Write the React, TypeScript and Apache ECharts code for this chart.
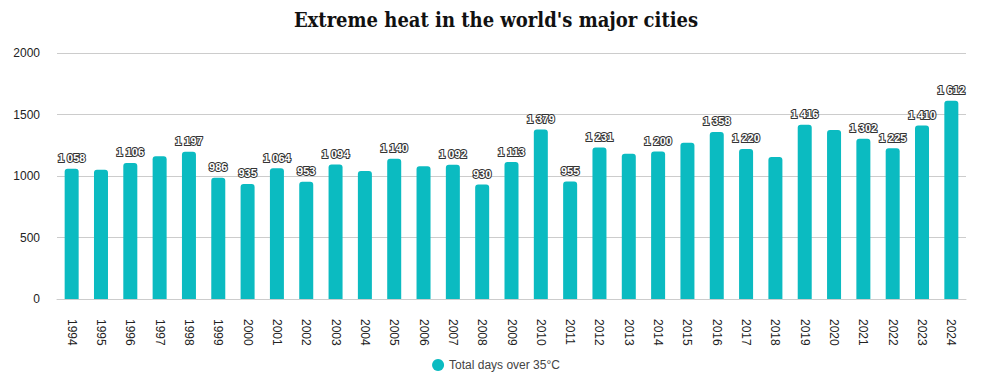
import React, { useEffect, useRef } from "react";
import * as echarts from "echarts";

const years = [
  "1994","1995","1996","1997","1998","1999","2000","2001","2002","2003","2004",
  "2005","2006","2007","2008","2009","2010","2011","2012","2013","2014","2015",
  "2016","2017","2018","2019","2020","2021","2022","2023","2024",
];
const totalDays = [
  1058, 1050, 1106, 1160, 1197, 986, 935, 1064, 953, 1094, 1040,
  1140, 1080, 1092, 930, 1113, 1379, 955, 1231, 1180, 1200, 1270,
  1358, 1220, 1155, 1416, 1375, 1302, 1225, 1410, 1612,
];
const hiddenLabelYears = ["1995","1997","2004","2006","2013","2015","2018","2020"];
const yTicks = [0, 500, 1000, 1500, 2000];
const seriesName = "Total days over 35°C";
const titleText = "Extreme heat in the world's major cities";

const SANS = "'Liberation Sans', Arial, sans-serif";

const fmt = (v: number) => {
  const s = String(Math.round(v));
  return s.replace(/\B(?=(\d{3})+(?!\d))/g, " ");
};

export default function App() {
  const ref = useRef<HTMLDivElement>(null);
  useEffect(() => {
    if (!ref.current) return;
    const chart = echarts.init(ref.current, null, { renderer: "svg" });
    chart.setOption({
      animation: false,
      backgroundColor: "#ffffff",
      title: {
        text: titleText,
        left: "center",
        top: 5,
        textStyle: {
          fontFamily: "'DejaVu Serif Condensed', 'DejaVu Serif', serif",
          fontWeight: "bold",
          fontSize: 20,
          color: "#111111",
        },
      },
      grid: { left: 57, right: 26, top: 53, bottom: 82, containLabel: false },
      legend: {
        bottom: 5,
        left: "center",
        icon: "circle",
        itemWidth: 12,
        itemHeight: 12,
        itemGap: 10,
        textStyle: { fontFamily: SANS, fontSize: 12, color: "#444444" },
        data: [seriesName],
      },
      xAxis: {
        type: "category",
        data: years,
        axisTick: { show: false },
        axisLine: { lineStyle: { color: "#cccccc" } },
        axisLabel: {
          rotate: -90,
          interval: 0,
          margin: 20,
          color: "#222222",
          fontFamily: SANS,
          fontSize: 12,
        },
      },
      yAxis: {
        type: "value",
        min: yTicks[0],
        max: yTicks[yTicks.length - 1],
        interval: 500,
        axisLabel: {
          color: "#222222",
          fontFamily: SANS,
          fontSize: 12,
          margin: 17,
          formatter: (v: number) => String(v),
        },
        splitLine: { lineStyle: { color: "#cccccc" } },
      },
      series: [
        {
          name: seriesName,
          type: "bar",
          barWidth: 14,
          itemStyle: { color: "#0BBBC1", borderRadius: [3, 3, 0, 0] },
          data: totalDays.map((v, i) => ({
            value: v,
            label: { show: !hiddenLabelYears.includes(years[i]) },
          })),
          label: {
            show: true,
            position: "top",
            distance: 5,
            formatter: (p: any) => fmt(p.value),
            color: "#ffffff",
            textBorderColor: "#333333",
            textBorderWidth: 2,
            fontFamily: SANS,
            fontSize: 11,
            fontWeight: "bold",
          },
        },
      ],
    });
    return () => chart.dispose();
  }, []);
  return (
    <div
      ref={ref}
      style={{ position: "fixed", left: 0, top: 0, width: 992, height: 381 }}
    />
  );
}
